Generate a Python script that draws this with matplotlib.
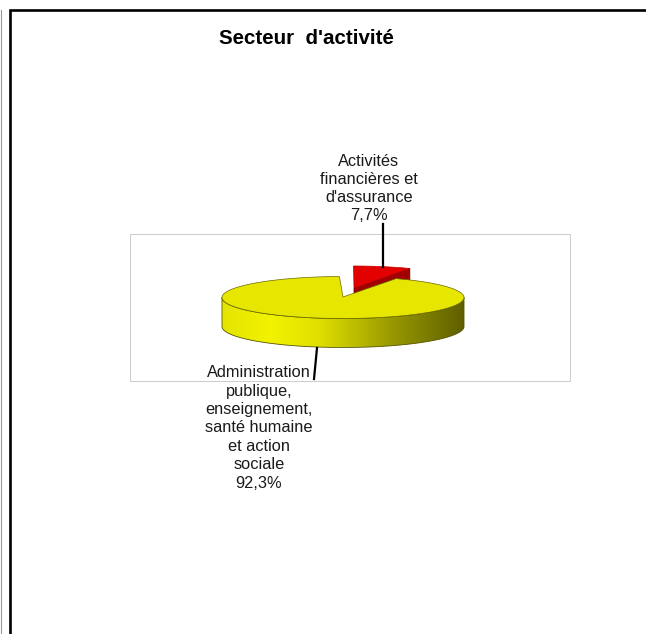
import numpy as np
import matplotlib
matplotlib.use('Agg')
import matplotlib.pyplot as plt
from matplotlib.colors import LinearSegmentedColormap
from matplotlib.patches import Polygon

title = "Secteur  d'activité"
labels = ["Activités\nfinancières et\nd'assurance\n7,7%",
          "Administration\npublique,\nenseignement,\nsanté humaine\net action\nsociale\n92,3%"]
values = [7.7, 92.3]

plt.rcParams['font.family'] = ['Liberation Sans', 'DejaVu Sans']

# one axes over the whole figure, units are picture pixels
fig = plt.figure(figsize=(6.46, 6.34), dpi=100)
ax = fig.add_axes([0, 0, 1, 1])
ax.set_xlim(0, 646)
ax.set_ylim(634, 0)
ax.axis('off')

# page frame
ax.plot([10, 10, 646], [634, 10, 10], color='black', lw=1.9, solid_joinstyle='miter')
ax.plot([0.5, 0.5], [10, 634], color='#999999', lw=0.8)

# plot area box
ax.add_patch(plt.Rectangle((130, 234), 439.5, 147, fc='white', ec='#cccccc', lw=0.7, zorder=1))

cx, cy = 343, 297.5
rx, ry = 121, 21
depth = 29
start = 62.5  # red slice starts here, going counter clockwise


def arc(a0, a1, x0, y0, ry_=ry):
    t = np.radians(np.linspace(a0, a1, 200))
    return np.column_stack([x0 + rx * np.cos(t), y0 - ry_ * np.sin(t)])


red_end = start + values[0] * 3.6
yellow_start = red_end + 1.5

# red slice, pulled out
rx0, ry0 = 354, 288
top = arc(start, red_end, rx0, ry0, 22)
wall = np.array([[rx0, ry0], top[0], top[0] + [0, depth], [rx0, ry0 + depth]])
ax.add_patch(Polygon(wall, fc='#a00000', ec='#600000', lw=0.5, zorder=3))
ax.add_patch(Polygon(np.vstack([[rx0, ry0], top]), fc='#e20000', ec='#c00000', lw=0.5, zorder=4))

# yellow side wall with gradient
lower = arc(180, 360, cx, cy)
side = np.vstack([lower, (lower + [0, depth])[::-1]])
cmap = LinearSegmentedColormap.from_list('side', [(0, '#e4e400'), (0.2, '#f2f200'), (0.4, '#e0e000'),
                                                  (0.7, '#999900'), (1, '#5f5f00')])
grad = np.linspace(0, 1, 256).reshape(1, -1)
im = ax.imshow(grad, cmap=cmap, extent=[cx - rx, cx + rx, cy + ry + depth, cy], aspect='auto', zorder=5)
clip = Polygon(side, transform=ax.transData, fc='none', ec='#555500', lw=0.6, zorder=5.1)
ax.add_patch(clip)
im.set_clip_path(clip)
ax.set_xlim(0, 646)
ax.set_ylim(634, 0)

# yellow top face
yellow_top = arc(yellow_start, yellow_start + values[1] * 3.6, cx, cy)
ax.add_patch(Polygon(np.vstack([[cx, cy - 0.5], yellow_top]), fc='#e6e600', ec='#6a6a00', lw=0.5, zorder=6))

# leader lines
ax.plot([383, 383], [224, 267], color='black', lw=1.6, zorder=7)
ax.plot([317, 314], [348, 379], color='black', lw=1.6, zorder=7)

ax.text(306.5, 38.5, title, ha='center', va='center', fontsize=14.8, fontweight='bold', color='black')
ax.text(369, 188.5, labels[0], ha='center', va='center', fontsize=11.8, color='#1a1a1a', linespacing=1.26, zorder=8)
ax.text(259, 428, labels[1], ha='center', va='center', fontsize=11.8, color='#1a1a1a', linespacing=1.28, zorder=8)

fig.savefig('out.png', dpi=100)
